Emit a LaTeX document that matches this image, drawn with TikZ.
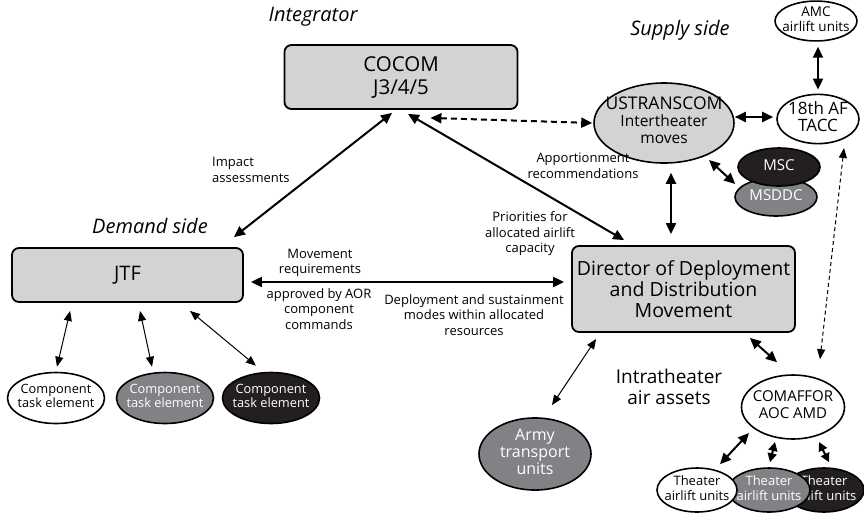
\documentclass[tikz,border=0pt]{standalone}
\usepackage{fontspec}
\setmainfont{Open Sans}
\usetikzlibrary{arrows.meta,shapes.geometric}
\definecolor{lightfill}{HTML}{D1D3D4}
\definecolor{midfill}{HTML}{808285}
\definecolor{darkfill}{HTML}{231F20}
\newcommand{\ovtxt}[1]{\makebox[0pt]{\begin{tabular}{@{}c@{}}#1\end{tabular}}}

\begin{document}
\begin{tikzpicture}
    \tikzset{x=1pt, y=-1pt}
    \tikzstyle{panel}=[rectangle, draw, rounded corners=7pt, line width=1.8pt, fill=lightfill, align=center]
    \tikzstyle{oval}=[ellipse, draw, line width=1.6pt, inner sep=0pt, fill=white]
    \tikzstyle{side}=[font=\fontsize{20}{22}\selectfont\itshape]
    \tikzstyle{note}=[align=center, inner sep=0pt, font=\fontsize{13}{15.5}\selectfont]
    \tikzstyle{heavy}=[{Triangle[length=11pt,width=10pt]}-{Triangle[length=11pt,width=10pt]}, line width=2pt]
    \tikzstyle{stub}=[{Triangle[length=9pt,width=9pt]}-{Triangle[length=9pt,width=9pt]}, line width=2pt]
    \tikzstyle{slim}=[{Triangle[length=10pt,width=8pt]}-{Triangle[length=10pt,width=8pt]}, line width=1pt]

    \useasboundingbox (0,0) rectangle (864,520);

    \draw (313,17)      node[side]  (integ)     {Integrator};
    \draw (680,30)      node[side]  (supply)    {Supply side};
    \draw (150,226)     node[side]  (demand)    {Demand side};

    \draw (401,77)      node[panel, minimum width=233pt, minimum height=64pt, font=\fontsize{20.5}{23}\selectfont]  (cocom)  {COCOM\\J3/4/5};
    \draw (127.5,275)   node[panel, minimum width=231pt, minimum height=54pt, font=\fontsize{20}{22}\selectfont]    (jtf)    {JTF};
    \draw (683.5,289)   node[panel, minimum width=223pt, minimum height=86pt, font=\fontsize{19.5}{21}\selectfont]  (ddm)    {Director of Deployment\\and Distribution\\Movement};

    \draw (664,123)     node[oval, fill=lightfill, minimum width=140pt, minimum height=80pt, font=\fontsize{15.5}{17}\selectfont] (ustc) {\ovtxt{\fontsize{17.5}{20}\selectfont USTRANSCOM\\Intertheater\\moves}};
    \draw (816,21)      node[oval, minimum width=82pt, minimum height=38pt, font=\fontsize{13.5}{13.5}\selectfont]  (amc)    {\ovtxt{AMC\\airlift units}};
    \draw (818,119)     node[oval, minimum width=82pt, minimum height=44pt, font=\fontsize{17}{16}\selectfont]      (tacc)   {\ovtxt{18th AF\\TACC}};
    \draw (776,197)     node[oval, fill=midfill, text=white, minimum width=82pt, minimum height=38pt, font=\fontsize{15}{15}\selectfont]  (msddc)  {\ovtxt{MSDDC}};
    \draw (779,167)     node[oval, fill=darkfill, text=white, minimum width=82pt, minimum height=38pt, font=\fontsize{15}{15}\selectfont] (msc)    {\ovtxt{MSC}};

    \draw (56,398)      node[oval, minimum width=97pt, minimum height=51pt, font=\fontsize{12.8}{13}\selectfont]  (comp1)  {\ovtxt{Component\\task element}};
    \draw (165,398)     node[oval, fill=midfill, text=white, minimum width=97pt, minimum height=51pt, font=\fontsize{12.8}{13}\selectfont]  (comp2)  {\ovtxt{Component\\task element}};
    \draw (271,398)     node[oval, fill=darkfill, text=white, minimum width=97pt, minimum height=51pt, font=\fontsize{12.8}{13}\selectfont] (comp3)  {\ovtxt{Component\\task element}};

    \draw (535,454)     node[oval, fill=midfill, text=white, minimum width=112pt, minimum height=68pt, font=\fontsize{16}{17}\selectfont]  (army)   {\ovtxt{Army\\transport\\units}};
    \draw (793,407)     node[oval, minimum width=103pt, minimum height=64pt, font=\fontsize{15}{17}\selectfont] (comaf)  {\ovtxt{COMAFFOR\\AOC AMD}};

    \draw (824,490)     node[oval, fill=darkfill, text=white, minimum width=80pt, minimum height=44pt, font=\fontsize{13}{15}\selectfont] (th3)  {\ovtxt{Theater\\airlift units}};
    \draw (769,490)     node[oval, fill=midfill, text=white, minimum width=82pt, minimum height=44pt, font=\fontsize{13}{15}\selectfont]  (th2)  {\ovtxt{Theater\\airlift units}};
    \draw (697,490)     node[oval, minimum width=80pt, minimum height=44pt, font=\fontsize{13}{15}\selectfont] (th1)  {\ovtxt{Theater\\airlift units}};

    \draw (212,170)     node[note, anchor=west, align=left]    (impact)    {Impact\\assessments};
    \draw (583,166)     node[note]  (apport)    {Apportionment\\recommendations};
    \draw (530,234)     node[note]  (prio)      {Priorities for\\allocated airlift\\capacity};
    \draw (320,263)     node[note]  (movreq)    {Movement\\requirements};
    \draw (319,309)     node[note]  (aor)       {approved by AOR\\component\\commands};
    \draw (474,315)     node[note]  (modes)     {Deployment and sustainment\\modes within allocated\\resources};
    \draw (669,387)     node[note, font=\fontsize{19}{21}\selectfont] (intra) {Intratheater\\air assets};

    \draw [heavy]       ([shift={(-9,3)}]cocom.south) -- ([shift={(-10,-10)}]jtf.north east);
    \draw [heavy]       ([shift={(7,4)}]cocom.south) -- ([shift={(53,-5)}]ddm.north west);
    \draw [heavy, dash pattern=on 6pt off 4pt] ([shift={(-88,8)}]cocom.south east) -- ([shift={(-1,0)}]ustc.west);
    \draw [heavy]       ([shift={(0,-6)}]ustc.east) -- ([shift={(-3,-2)}]tacc.west);
    \draw [heavy]       ([shift={(2,5)}]amc.south) -- ([shift={(0,-4)}]tacc.north);
    \draw [heavy]       ([shift={(45,37)}]ustc.center) -- ([shift={(-2,17)}]msc.west);
    \draw [heavy]       ([shift={(7,9)}]ustc.south) -- ([shift={(-12.5,-11)}]ddm.north);
    \draw [slim, dash pattern=on 4pt off 3pt] ([shift={(26,29)}]tacc.center) -- ([shift={(27,-15)}]comaf.north);
    \draw [heavy]       ([shift={(7,7)}]jtf.east) -- ([shift={(-7,-7)}]ddm.west);
    \draw [heavy]       ([shift={(-46,5)}]ddm.south east) -- ([shift={(-16,-12)}]comaf.north);
    \draw [slim]        ([shift={(25,6)}]ddm.south west) -- ([shift={(17,-12)}]army.north);

    \draw [slim]        ([shift={(59,8)}]jtf.south west) -- ([shift={(1,-5)}]comp1.north);
    \draw [slim]        ([shift={(12.5,8)}]jtf.south) -- ([shift={(-13,-5)}]comp2.north);
    \draw [slim]        ([shift={(62.5,8)}]jtf.south) -- ([shift={(-15,-6)}]comp3.north);

    \draw [heavy]       ([shift={(-44,26)}]comaf.center) -- ([shift={(23,-3)}]th1.north);
    \draw [stub]        ([shift={(-18,35)}]comaf.center) -- ([shift={(1,-5)}]th2.north);
    \draw [stub]        ([shift={(26,35)}]comaf.center) -- ([shift={(5,-5)}]th3.north);
\end{tikzpicture}
\end{document}
